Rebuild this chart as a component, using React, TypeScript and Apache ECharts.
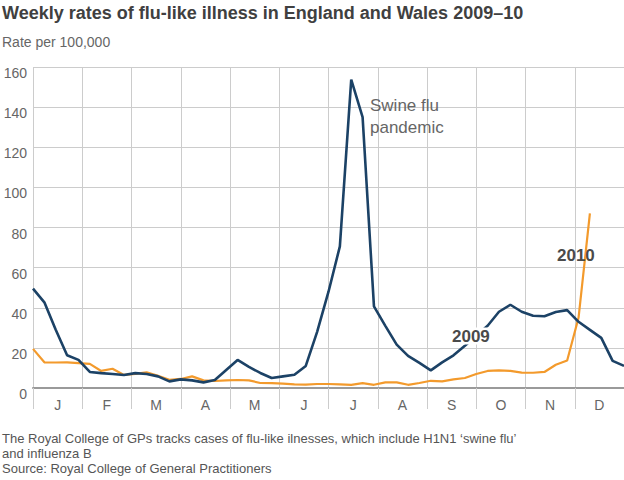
import React, { useEffect, useRef } from "react";
import * as echarts from "echarts";

const months = ["J", "F", "M", "A", "M", "J", "J", "A", "S", "O", "N", "D"];
const yTicks = [0, 20, 40, 60, 80, 100, 120, 140, 160];

// weekly rates, week 0 .. 52
const rate2009 = [
  49.5, 42.7, 29, 16.3, 14, 8, 7.4, 7, 6.5, 7.4, 7, 5.8, 3.3, 4.3, 3.8, 2.8, 4,
  9, 14, 10.5, 7.5, 5, 5.8, 6.6, 11, 28, 48, 70.6, 153.7, 135, 40.7, 31, 21.6,
  16, 12.5, 8.8, 12.8, 16.3, 21, 26, 31, 38, 41.5, 38, 36, 35.8, 37.9, 38.8, 33,
  29, 25, 13.5, 11,
];
const rate2010 = [
  19.5, 12.8, 12.7, 12.8, 12.4, 12, 8.5, 9.6, 6.5, 7, 7.8, 6.1, 4.1, 4.5, 5.8,
  3.8, 3.5, 3.8, 4, 3.8, 2.5, 2.4, 2.2, 1.8, 1.7, 2, 2, 1.8, 1.6, 2.4, 1.6, 2.8,
  2.8, 1.6, 2.5, 3.6, 3.3, 4.3, 5, 7, 8.5, 8.8, 8.5, 7.7, 7.6, 8, 11.6, 13.7,
  35, 87,
];

const titleText = "Weekly rates of flu-like illness in England and Wales 2009\u201310";
const subtitleText = "Rate per 100,000";
const noteLines = [
  "The Royal College of GPs tracks cases of flu-like ilnesses, which include H1N1 \u2018swine flu\u2019",
  "and influenza B",
  "Source: Royal College of General Practitioners",
];

const FONT = "'Liberation Sans', Arial, Helvetica, sans-serif";

export default function App() {
  const ref = useRef<HTMLDivElement>(null);
  useEffect(() => {
    if (!ref.current) return;
    const chart = echarts.init(ref.current, undefined, { renderer: "svg" });
    const weeks = 52;
    chart.setOption({
      animation: false,
      backgroundColor: "#fff",
      grid: { left: 33, right: 0, top: 67, bottom: 92, containLabel: false },
      xAxis: [
        {
          type: "category",
          data: months,
          boundaryGap: true,
          position: "bottom",
          axisLine: { show: true, lineStyle: { color: "#9a9a9a", width: 2 } },
          axisTick: {
            show: true,
            interval: 0,
            length: 21,
            lineStyle: { color: "#cccccc", width: 1 },
          },
          axisLabel: {
            interval: 0,
            margin: 10,
            color: "#666",
            fontSize: 14,
            fontFamily: FONT,
          },
          splitLine: {
            show: true,
            interval: 0,
            lineStyle: { color: "#cccccc", width: 1 },
          },
          z: 1,
        },
        {
          type: "value",
          min: 0,
          max: weeks,
          show: false,
        },
      ],
      yAxis: {
        type: "value",
        min: 0,
        max: 160,
        interval: 20,
        axisLine: { show: false },
        axisTick: { show: false },
        axisLabel: {
          color: "#666",
          fontSize: 14,
          fontFamily: FONT,
          margin: 6,
          verticalAlign: "top",
          lineHeight: 12,
          formatter: (v: number) => (yTicks.includes(v) ? String(v) : ""),
        },
        splitLine: { lineStyle: { color: "#cccccc", width: 1 } },
      },
      series: [
        {
          name: "2010",
          type: "line",
          xAxisIndex: 1,
          data: rate2010.map((v, i) => [i, v]),
          showSymbol: false,
          lineStyle: { color: "#f39a2c", width: 2.2 },
          itemStyle: { color: "#f39a2c" },
          z: 3,
        },
        {
          name: "2009",
          type: "line",
          xAxisIndex: 1,
          data: rate2009.map((v, i) => [i, v]),
          showSymbol: false,
          lineStyle: { color: "#1c4266", width: 2.6 },
          itemStyle: { color: "#1c4266" },
          z: 4,
        },
      ],
      graphic: [
        {
          type: "text",
          x: 2,
          y: 13,
          style: {
            text: titleText,
            font: `bold 18px ${FONT}`,
            fill: "#404040",
            verticalAlign: "middle",
          },
        },
        {
          type: "text",
          x: 2,
          y: 42,
          style: {
            text: subtitleText,
            font: `14px ${FONT}`,
            fill: "#666",
            verticalAlign: "middle",
          },
        },
        {
          type: "text",
          x: 370,
          y: 105,
          z: 10,
          style: {
            text: "Swine flu",
            font: `17px ${FONT}`,
            fill: "#666",
            verticalAlign: "middle",
          },
        },
        {
          type: "text",
          x: 370,
          y: 127,
          z: 10,
          style: {
            text: "pandemic",
            font: `17px ${FONT}`,
            fill: "#666",
            verticalAlign: "middle",
          },
        },
        {
          type: "text",
          x: 451,
          y: 336,
          z: 10,
          style: {
            text: "2009",
            font: `bold 17px ${FONT}`,
            fill: "#4a4a4a",
            verticalAlign: "middle",
            backgroundColor: "#fff",
            padding: [0, 1, 0, 1],
          },
        },
        {
          type: "text",
          x: 557,
          y: 255,
          z: 10,
          style: {
            text: "2010",
            font: `bold 17px ${FONT}`,
            fill: "#4a4a4a",
            verticalAlign: "middle",
          },
        },
        ...noteLines.map((t, i) => ({
          type: "text",
          x: 2,
          y: [438, 453, 468][i],
          style: {
            text: t,
            font: `13px ${FONT}`,
            fill: "#555",
            verticalAlign: "middle",
          },
        })),
      ],
    });
    return () => chart.dispose();
  }, []);
  return (
    <div
      ref={ref}
      style={{ position: "fixed", left: 0, top: 0, width: 624, height: 480 }}
    />
  );
}
